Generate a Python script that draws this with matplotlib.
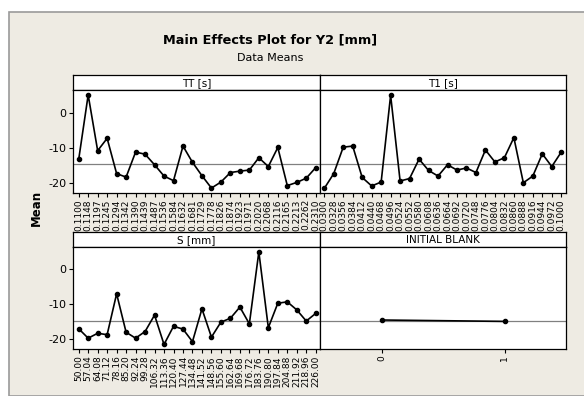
import matplotlib.pyplot as plt
from matplotlib.patches import Rectangle

plt.rcParams['axes.unicode_minus'] = False

# factor levels (tick labels)
tt_levels = ['0.1100', '0.1148', '0.1197', '0.1245', '0.1294', '0.1342', '0.1390', '0.1439', '0.1487',
             '0.1536', '0.1584', '0.1632', '0.1681', '0.1729', '0.1778', '0.1826', '0.1874', '0.1923',
             '0.1971', '0.2020', '0.2068', '0.2116', '0.2165', '0.2213', '0.2262', '0.2310']
t1_levels = ['0.0300', '0.0328', '0.0356', '0.0384', '0.0412', '0.0440', '0.0468', '0.0496', '0.0524',
             '0.0552', '0.0580', '0.0608', '0.0636', '0.0664', '0.0692', '0.0720', '0.0748', '0.0776',
             '0.0804', '0.0832', '0.0860', '0.0888', '0.0916', '0.0944', '0.0972', '0.1000']
s_levels = ['50.00', '57.04', '64.08', '71.12', '78.16', '85.20', '92.24', '99.28', '106.32', '113.36',
            '120.40', '127.44', '134.48', '141.52', '148.56', '155.60', '162.64', '169.68', '176.72',
            '183.76', '190.80', '197.84', '204.88', '211.92', '218.96', '226.00']
blank_levels = ['0', '1']

# data means
tt_means = [-13.3, 5.0, -10.8, -7.3, -17.3, -18.3, -11.2, -11.8, -14.8, -18.0, -19.3, -9.5, -14.1,
            -17.9, -21.4, -19.7, -17.0, -16.6, -16.3, -12.8, -15.3, -9.9, -20.7, -19.8, -18.6, -15.6]
t1_means = [-21.5, -17.3, -9.8, -9.5, -18.4, -20.8, -19.7, 4.9, -19.4, -18.7, -13.2, -16.4, -18.0,
            -14.8, -16.3, -15.7, -17.0, -10.6, -14.0, -12.8, -7.1, -19.9, -18.0, -11.7, -15.3, -11.2]
s_means = [-17.0, -19.7, -18.3, -18.7, -7.0, -18.0, -19.7, -17.8, -13.1, -21.5, -16.3, -17.1, -20.7,
           -11.3, -19.4, -15.1, -14.0, -10.8, -15.6, 5.0, -16.7, -9.7, -9.3, -11.6, -14.8, -12.6]
blank_means = [-14.5, -14.9]
grand_mean = -14.7

W, H = 584, 396
fig = plt.figure(figsize=(W / 100, H / 100), dpi=100)
fig.patch.set_facecolor('white')
fig.patches.append(Rectangle((9 / W, 0), 1, 1 - 12 / H, transform=fig.transFigure,
                             facecolor='#eeebe3', edgecolor='#9a9a9a', lw=1.2, zorder=-5))


def box(x0, y0, x1, y1):
    # pixel box (top-left origin) -> figure fraction
    return [x0 / W, 1 - y1 / H, (x1 - x0) / W, (y1 - y0) / H]


panels = [
    ('TT [s]', tt_levels, tt_means, (73, 320), (75, 90, 193), (-0.6, 25.45), True),
    ('T1 [s]', t1_levels, t1_means, (320, 566), (75, 90, 193), (-0.45, 25.5), False),
    ('S [mm]', s_levels, s_means, (73, 320), (232, 247, 349), (-0.6, 25.45), True),
    ('INITIAL BLANK', blank_levels, blank_means, (320, 566), (232, 247, 349), (-0.5, 1.5), False),
]

for name, levels, means, (x0, x1), (ys, ya, yb), xlim, show_y in panels:
    strip = fig.add_axes(box(x0, ys, x1, ya))
    strip.set_xticks([])
    strip.set_yticks([])
    strip.text(0.5, 0.45, name, ha='center', va='center', fontsize=7.5, transform=strip.transAxes)
    for sp in strip.spines.values():
        sp.set_linewidth(0.9)

    ax = fig.add_axes(box(x0, ya, x1, yb))
    x = list(range(len(levels)))
    ax.axhline(grand_mean, color='#808080', lw=0.9, zorder=1)
    ax.plot(x, means, 'k-', marker='o', markersize=3, lw=1.2, zorder=2)
    ax.set_xlim(*xlim)
    ax.set_ylim(-22.8, 6.4)
    ax.set_xticks(x)
    ax.set_xticklabels(levels, rotation=90, fontsize=6.5)
    ax.set_yticks([0, -10, -20])
    ax.tick_params(direction='out', length=3, width=0.8, pad=1.5)
    if show_y:
        ax.tick_params(axis='y', labelsize=8)
    else:
        ax.tick_params(axis='y', left=False, labelleft=False)
    for sp in ax.spines.values():
        sp.set_linewidth(0.9)

fig.text(270 / W, 1 - 40 / H, 'Main Effects Plot for Y2 [mm]', ha='center', va='center',
         fontsize=9.3, fontweight='bold')
fig.text(270 / W, 1 - 58 / H, 'Data Means', ha='center', va='center', fontsize=8)
fig.text(36 / W, 1 - 208 / H, 'Mean', ha='center', va='center', rotation=90,
         fontsize=8.5, fontweight='bold')

fig.savefig('out.png', dpi=100)
